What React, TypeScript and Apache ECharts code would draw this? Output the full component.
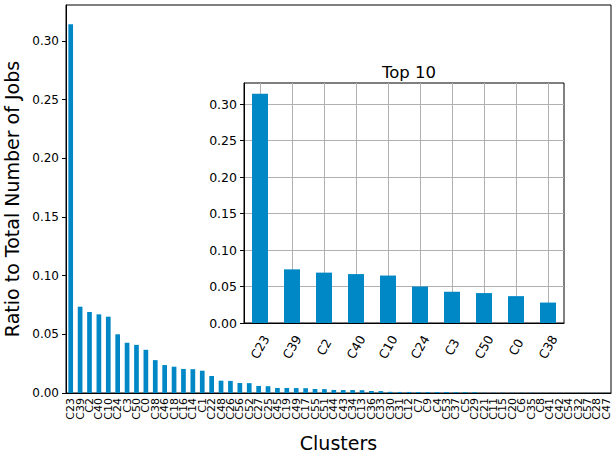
import React, { useEffect, useRef } from "react";
import * as echarts from "echarts";

const clusters = [
  "C23", "C39", "C2", "C40", "C10", "C24", "C3", "C50", "C0", "C38",
  "C46", "C18", "C16", "C14", "C1", "C22", "C48", "C26", "C56", "C52",
  "C27", "C25", "C45", "C19", "C49", "C17", "C55", "C51", "C44", "C43",
  "C34", "C13", "C36", "C33", "C30", "C31", "C12", "C7", "C9", "C4",
  "C53", "C37", "C5", "C29", "C21", "C11", "C15", "C20", "C6", "C35",
  "C8", "C41", "C42", "C54", "C32", "C57", "C28", "C47",
];

const ratios = [
  0.314, 0.0735, 0.069, 0.067, 0.065, 0.050, 0.0428, 0.041, 0.0368, 0.028,
  0.0238, 0.0224, 0.0205, 0.0203, 0.019, 0.0145, 0.0105, 0.0103, 0.0085, 0.0084,
  0.006, 0.0058, 0.0043, 0.0043, 0.0042, 0.0041, 0.0034, 0.0033, 0.0026, 0.0025,
  0.0025, 0.0024, 0.0017, 0.0016, 0.001, 0.0009, 0.0009, 0.0008, 0.0008, 0.0008,
  0.0008, 0.0007, 0.0007, 0.0007, 0.0002, 0.0002, 0.0002, 0.0002, 0.0002, 0.0002,
  0.0001, 0.0001, 0.0001, 0.0001, 0.0001, 0.0001, 0.0001, 0.0001,
];

const yTicks = [0, 0.05, 0.1, 0.15, 0.2, 0.25, 0.3];
const topN = 10;
const topClusters = clusters.slice(0, topN);
const topRatios = ratios.slice(0, topN);

const FONT = "DejaVu Sans";
const BAR = "#0088c6";
const GRIDC = "#b0b0b0";

export default function App() {
  const ref = useRef<HTMLDivElement>(null);
  useEffect(() => {
    document.body.style.margin = "0";
    const chart = echarts.init(ref.current!, null, { renderer: "svg" });
    const gridLinesH = yTicks.slice(1).map((v) => ({ yAxis: v }));
    const gridLinesV = topClusters.map((c) => ({ xAxis: c }));
    chart.setOption({
      animation: false,
      textStyle: { fontFamily: FONT },
      title: {
        text: "Top 10",
        left: 404,
        top: 59,
        textAlign: "center",
        textStyle: { fontFamily: FONT, fontSize: 16.5, fontWeight: "normal", color: "#000" },
      },
      grid: [
        { left: 66, top: 5, width: 545, height: 388, outerBoundsMode: "none", containLabel: false, show: true, borderColor: "#000", borderWidth: 1, backgroundColor: "#fff" },
        { left: 244, top: 83, width: 320, height: 240, outerBoundsMode: "none", containLabel: false, show: true, borderColor: "#000", borderWidth: 1, backgroundColor: "#fff", z: 5 },
      ],
      xAxis: [
        {
          type: "category",
          gridIndex: 0,
          data: clusters,
          name: "Clusters",
          nameLocation: "middle",
          nameGap: 40,
          nameTextStyle: { fontFamily: FONT, fontSize: 19, color: "#000" },
          axisLine: { lineStyle: { color: "#000" } },
          axisTick: { alignWithLabel: true, length: 4, lineStyle: { color: "#000" } },
          axisLabel: { interval: 0, rotate: 90, fontSize: 11, color: "#000", margin: 5, fontFamily: FONT },
          splitLine: { show: false },
        },
        {
          type: "category",
          gridIndex: 1,
          data: topClusters,
          z: 6,
          axisLine: { lineStyle: { color: "#000" } },
          axisTick: { alignWithLabel: true, length: 4, lineStyle: { color: "#000" } },
          axisLabel: {
            interval: 0,
            rotate: 60,
            fontSize: 12.5,
            color: "#000",
            margin: 24,
            align: "center",
            verticalAlign: "middle",
            fontFamily: FONT,
          },
          splitLine: { show: false },
        },
      ],
      yAxis: [
        {
          type: "value",
          gridIndex: 0,
          min: 0,
          max: 0.3305,
          interval: 0.05,
          name: "Ratio to Total Number of Jobs",
          nameLocation: "middle",
          nameGap: 45,
          nameTextStyle: { fontFamily: FONT, fontSize: 19, color: "#000" },
          axisLine: { show: true, lineStyle: { color: "#000" } },
          axisTick: { show: true, length: 4, lineStyle: { color: "#000" } },
          axisLabel: {
            fontSize: 12,
            color: "#000",
            margin: 7,
            showMaxLabel: false,
            fontFamily: FONT,
            formatter: (v: number) => v.toFixed(2),
          },
          splitLine: { show: false },
        },
        {
          type: "value",
          gridIndex: 1,
          min: 0,
          max: 0.3288,
          interval: 0.05,
          z: 6,
          axisLine: { show: true, lineStyle: { color: "#000" } },
          axisTick: { show: true, length: 4, lineStyle: { color: "#000" } },
          axisLabel: {
            fontSize: 12.5,
            color: "#000",
            margin: 7,
            showMaxLabel: false,
            fontFamily: FONT,
            formatter: (v: number) => v.toFixed(2),
          },
          splitLine: { show: false },
        },
      ],
      series: [
        {
          type: "bar",
          xAxisIndex: 0,
          yAxisIndex: 0,
          data: ratios,
          barWidth: "50%",
          itemStyle: { color: BAR },
        },
        {
          type: "bar",
          xAxisIndex: 1,
          yAxisIndex: 1,
          data: topRatios,
          barWidth: "50%",
          itemStyle: { color: BAR },
          z: 6,
          markLine: {
            silent: true,
            symbol: "none",
            label: { show: false },
            lineStyle: { color: GRIDC, width: 1, type: "solid" },
            data: [...gridLinesH, ...gridLinesV],
          },
        },
      ],
    });
    return () => chart.dispose();
  }, []);
  return <div ref={ref} style={{ width: 615, height: 453 }} />;
}
